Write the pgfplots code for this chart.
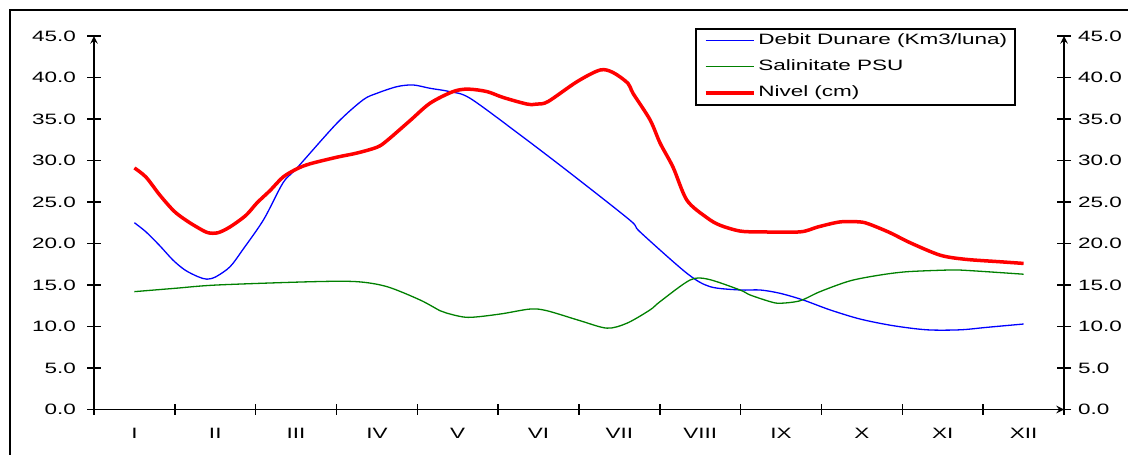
\documentclass[border=0pt]{standalone}
\usepackage{fontspec}
\setmainfont[FakeStretch=1.5]{Liberation Sans}
\usepackage{pgfplots}
\pgfplotsset{compat=1.18}
\newcommand\chf{\fontsize{7.5bp}{9bp}\selectfont}
\definecolor{cblue}{RGB}{0,0,255}
\definecolor{cgreen}{RGB}{0,128,0}
\definecolor{cred}{RGB}{255,0,0}
\pgfplotsset{
  base/.style={
    at={(47bp,22.75bp)}, anchor=south west,
    scale only axis, width=485bp, height=186.75bp,
    xmin=0, xmax=12, ymin=0, ymax=45,
    ytick={0,5,...,45},
    tick align=center,
    major tick length=7bp,
    tick style={black, line width=0.7bp},
    axis line style={-, black, line width=0.7bp},
    every tick label/.append style={font=\chf},
    /pgf/number format/assume math mode=true,
    y tick label style={/pgf/number format/fixed, /pgf/number format/fixed zerofill, /pgf/number format/precision=1},
  }
}
\begin{document}
\begin{tikzpicture}
\useasboundingbox (0,0) rectangle (564bp,227.5bp);
\draw[line width=0.75bp] (5bp,0) -- (5bp,222.5bp) -- (564bp,222.5bp);
\begin{axis}[base,
  axis x line=bottom, axis y line=left,
  xtick={0,...,12},
  x tick label as interval=true,
  xticklabels={I,II,III,IV,V,VI,VII,VIII,IX,X,XI,XII},
  xtick style={/pgfplots/major tick length=5bp},
  x tick label style={yshift=-2.5bp},
  y tick label style={xshift=-2bp},
  legend style={at={(0.6196,1.0214)}, anchor=north west, draw=black, line width=0.75bp,
    inner xsep=4bp, inner ysep=2.5bp, row sep=6bp, /tikz/column sep=1.5bp,
    nodes={inner sep=0pt, text height=5.5bp, text depth=1.5bp}, font=\chf},
  legend cell align=left,
  legend image code/.code={\draw[#1] (0bp,0bp) -- (24bp,0bp);},
]
\addplot[cblue, line width=0.65bp, smooth, tension=0.5] coordinates {
(0.5,22.5) (0.643,21.4) (0.817,19.7) (0.977,18.0) (1.126,16.8) (1.287,16.0) (1.398,15.7)
(1.509,16.0) (1.683,17.2) (1.844,19.3) (2.100,22.9) (2.338,27.3) (2.511,29.1)
(3.006,34.5) (3.328,37.3) (3.501,38.1) (3.749,38.9) (3.947,39.1) (4.157,38.7) (4.400,38.3)
(4.652,37.5) (5.270,33.1) (5.889,28.5) (6.631,22.8) (6.755,21.4) (7.336,16.4) (7.621,14.8)
(7.992,14.4) (8.240,14.4) (8.487,14.0) (8.771,13.2) (9.106,12.0) (9.477,10.9) (9.885,10.1)
(10.306,9.6) (10.714,9.6) (11.048,9.9) (11.5,10.3)};
\addlegendentry{Debit Dunare (Km3/luna)}
\addplot[cgreen, line width=0.65bp, smooth, tension=0.5] coordinates {
(0.5,14.2) (1.002,14.6) (1.522,15.0) (2.709,15.4) (3.254,15.4) (3.625,14.8) (4.033,13.2)
(4.281,11.9) (4.367,11.6) (4.627,11.1) (5.023,11.5) (5.394,12.1) (5.604,11.9) (6.013,10.7)
(6.347,9.8) (6.594,10.4) (6.879,12.0) (7.003,13.0) (7.374,15.6) (7.596,15.7) (7.992,14.4)
(8.116,13.8) (8.363,13.0) (8.487,12.8) (8.734,13.1) (8.982,14.2) (9.353,15.5) (9.724,16.2)
(10.058,16.6) (10.553,16.8) (10.714,16.8) (11.048,16.6) (11.5,16.3)};
\addlegendentry{Salinitate PSU}
\addplot[cred, line width=1.75bp, smooth, tension=0.5] coordinates {
(0.5,29.1) (0.643,28.0) (0.817,25.8) (0.990,23.9) (1.138,22.8) (1.287,21.9) (1.410,21.3)
(1.534,21.3) (1.683,22.0) (1.880,23.4) (2.017,24.9) (2.180,26.4) (2.338,28.0) (2.511,29.0)
(2.672,29.6) (3.006,30.4) (3.254,30.9) (3.501,31.6) (3.625,32.4) (3.909,34.8) (4.157,36.9)
(4.441,38.3) (4.627,38.6) (4.862,38.3) (5.060,37.6) (5.357,36.8) (5.481,36.8) (5.617,37.1)
(5.976,39.5) (6.260,40.9) (6.421,40.6) (6.606,39.3) (6.668,38.1) (6.879,34.9) (7.003,32.1)
(7.163,29.2) (7.336,25.2) (7.584,23.1) (7.745,22.2) (7.992,21.5) (8.240,21.4) (8.734,21.4)
(8.957,22.0) (9.229,22.6) (9.477,22.6) (9.600,22.3) (9.848,21.3) (10.095,20.1) (10.466,18.6)
(10.776,18.1) (11.209,17.8) (11.5,17.6)};
\addlegendentry{Nivel (cm)}
\end{axis}
\begin{axis}[base,
  axis x line=none, axis y line=right,
  yticklabel pos=right,
]
\end{axis}
\end{tikzpicture}
\end{document}
